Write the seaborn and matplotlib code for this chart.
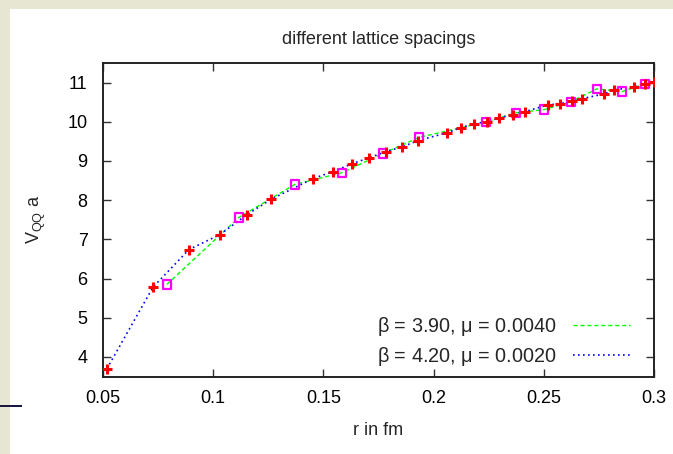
import matplotlib
matplotlib.use('Agg')
import matplotlib.pyplot as plt
import matplotlib.patches as patches
import seaborn as sns
import pandas as pd

# beta = 4.20, mu = 0.0020 (red pluses, blue dotted line)
r_b420 = [0.0518, 0.0727, 0.089, 0.103, 0.1153, 0.1262, 0.1453, 0.1544, 0.163,
          0.1707, 0.1784, 0.1857, 0.193, 0.2061, 0.2124, 0.2183, 0.2242, 0.2297,
          0.236, 0.2415, 0.2519, 0.2573, 0.2628, 0.2673, 0.2773, 0.2818, 0.291,
          0.296, 0.300]
v_b420 = [3.70, 5.78, 6.74, 7.12, 7.63, 8.02, 8.55, 8.73, 8.93,
          9.08, 9.24, 9.36, 9.52, 9.72, 9.85, 9.95, 10.00, 10.10,
          10.18, 10.26, 10.43, 10.46, 10.53, 10.59, 10.71, 10.81, 10.89,
          10.97, 11.02]

# beta = 3.90, mu = 0.0040 (magenta squares, green dashed line)
r_b390 = [0.079, 0.1117, 0.137, 0.1584, 0.177, 0.1934, 0.2238, 0.2374, 0.2501,
          0.2623, 0.2741, 0.2855, 0.296]
v_b390 = [5.85, 7.56, 8.40, 8.70, 9.19, 9.60, 10.00, 10.23, 10.31,
          10.51, 10.84, 10.77, 10.97]

labels = [r'$\mathregular{\beta}$ = 3.90, $\mathregular{\mu}$ = 0.0040',
          r'$\mathregular{\beta}$ = 4.20, $\mathregular{\mu}$ = 0.0020']
xticks = [0.05, 0.1, 0.15, 0.2, 0.25, 0.3]
xticklabels = ['0.05', '0.1', '0.15', '0.2', '0.25', '0.3']
yticks = [4, 5, 6, 7, 8, 9, 10, 11]

df420 = pd.DataFrame({'r': r_b420, 'V': v_b420})
df390 = pd.DataFrame({'r': r_b390, 'V': v_b390})

sns.set_style('ticks')
plt.rcParams['font.family'] = ['Liberation Sans', 'DejaVu Sans']
plt.rcParams['mathtext.fontset'] = 'custom'
plt.rcParams['mathtext.rm'] = 'Liberation Sans'
plt.rcParams['font.size'] = 13

fig = plt.figure(figsize=(6.73, 4.54), dpi=100)
fig.patch.set_facecolor('white')
# slide decoration: beige strips on the left and top, short dark rule
fig.patches.append(patches.Rectangle((0, 0), 10 / 673, 1, transform=fig.transFigure,
                                     facecolor='#e6e6d2', edgecolor='none', zorder=0))
fig.patches.append(patches.Rectangle((0, 1 - 9 / 454), 1, 9 / 454, transform=fig.transFigure,
                                     facecolor='#e6e6d2', edgecolor='none', zorder=0))
fig.patches.append(patches.Rectangle((0, 1 - 407 / 454), 22 / 673, 2 / 454, transform=fig.transFigure,
                                     facecolor='#1a1a40', edgecolor='none', zorder=1))

ax = fig.add_axes([103 / 673, 1 - 376.5 / 454, 551 / 673, 313.5 / 454])

sns.lineplot(data=df390, x='r', y='V', ax=ax, color='#00ff00', linestyle=(0, (3, 2)),
             linewidth=1.0, label=labels[0], sort=False, zorder=2)
sns.lineplot(data=df420, x='r', y='V', ax=ax, color='#0000ff', linestyle=(0, (1, 2)),
             linewidth=1.2, label=labels[1], sort=False, zorder=2)
sns.scatterplot(data=df390, x='r', y='V', ax=ax, marker='s', s=36, facecolor='none',
                edgecolor='#ff00ff', linewidth=1.6, zorder=3, legend=False)
sns.scatterplot(data=df420, x='r', y='V', ax=ax, marker='+', s=45, color='#ff0000',
                linewidth=2.2, zorder=4, legend=False)

ax.set_xlim(0.05, 0.3)
ax.set_ylim(3.5, 11.5)
ax.set_xticks(xticks)
ax.set_xticklabels(xticklabels)
ax.set_yticks(yticks)
ax.tick_params(direction='in', length=6, width=1, top=True, right=True,
               labelsize=13, colors='#333333', labelcolor='black')
ax.tick_params(axis='x', pad=10)
ax.tick_params(axis='y', pad=11)
for sp in ax.spines.values():
    sp.set_linewidth(1.4)
    sp.set_color('#222222')

ax.set_title('different lattice spacings', fontsize=13, pad=14)
ax.set_xlabel('r in fm', fontsize=13)
ax.xaxis.set_label_coords(0.5, -0.145)
ax.set_ylabel(r'$\mathregular{V_{QQ}}$ a', fontsize=13)
ax.yaxis.set_label_coords(-0.10, 0.5)

ax.legend(loc='lower right', bbox_to_anchor=(0.975, -0.005), frameon=False,
          markerfirst=False, handlelength=2.9, handletextpad=0.8,
          labelspacing=0.35, borderpad=0, fontsize=14.3)

fig.savefig('out.png', dpi=100)
